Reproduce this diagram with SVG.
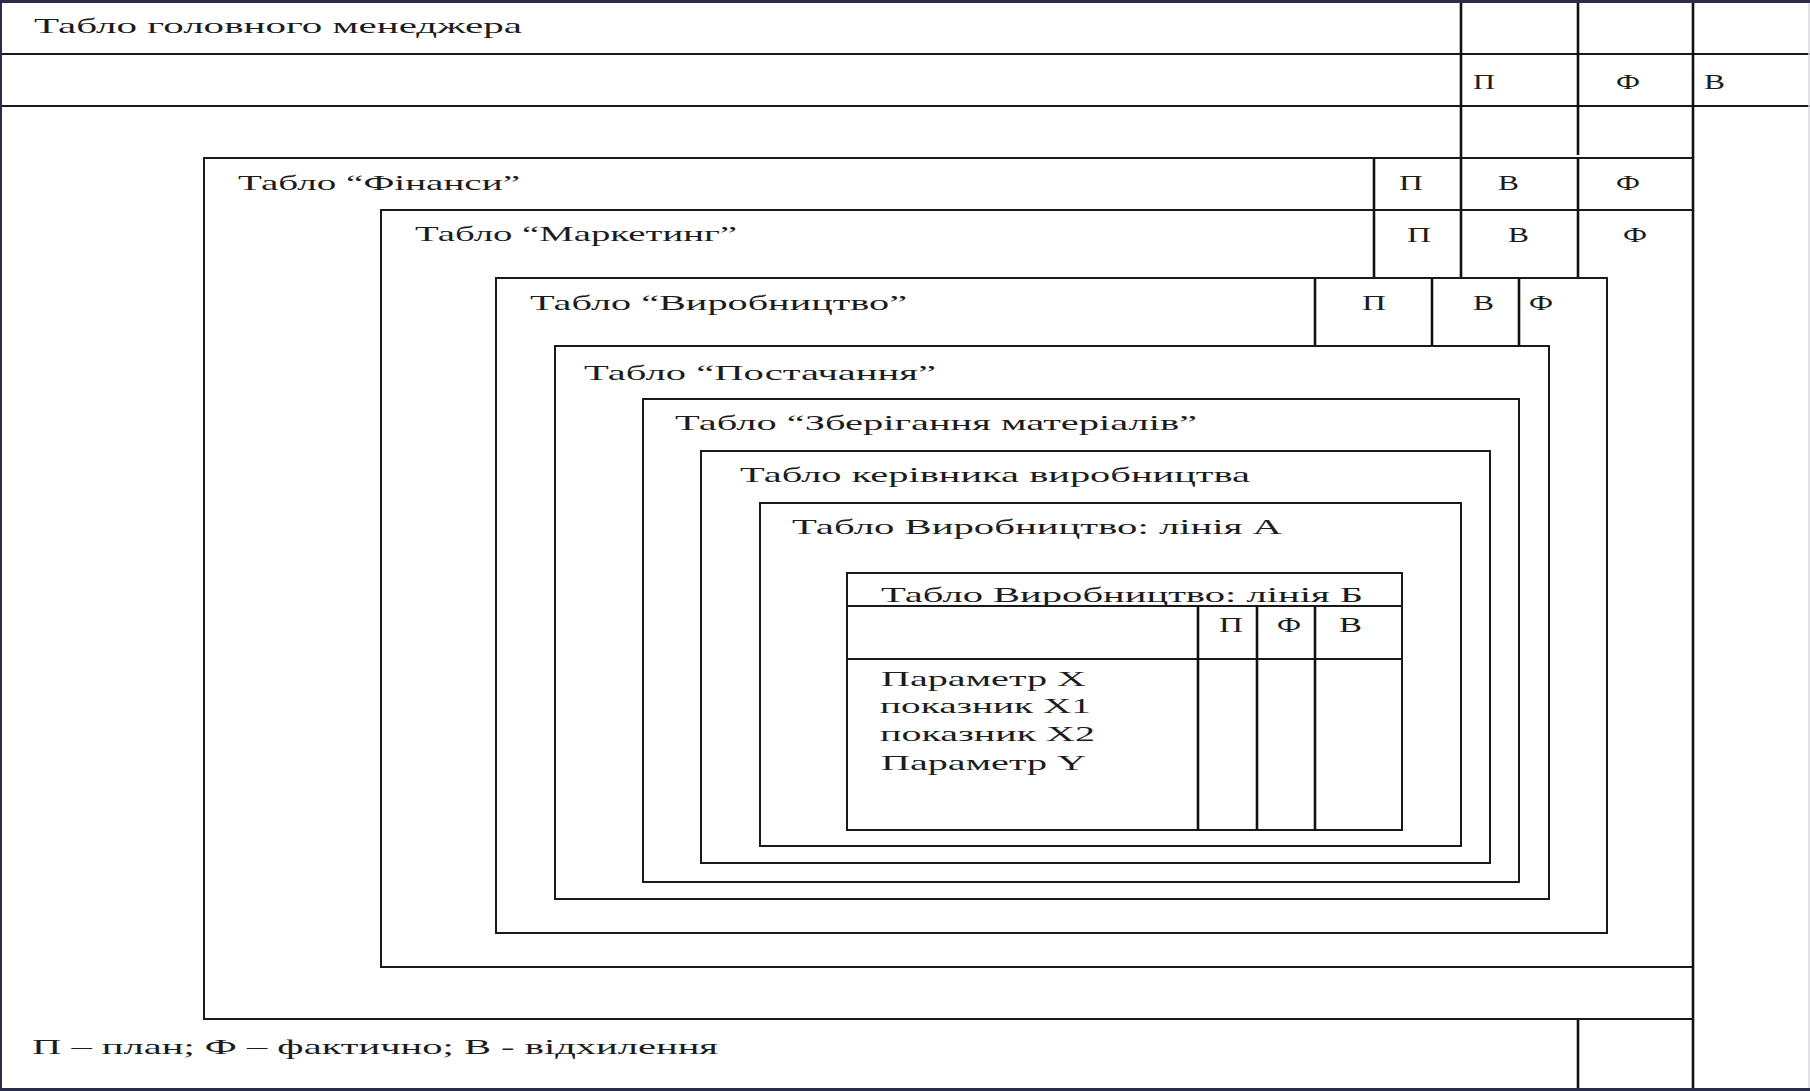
<svg xmlns="http://www.w3.org/2000/svg" width="1810" height="1091" viewBox="0 0 1810 1091">
<style>
.ln{stroke:#1a1a1a;stroke-width:2;fill:none}
.vk{stroke:#111;stroke-width:2.6;fill:none}
.t{font-family:"Liberation Serif","DejaVu Serif",serif;font-size:22px;fill:#1c1c1c}
.m{font-family:"Liberation Serif","DejaVu Serif",serif;font-size:22px;fill:#1c1c1c}
</style>
<rect x="0" y="0" width="1810" height="1091" fill="#ffffff"/>
<g id="frame">
<line class="ln" x1="0" y1="54" x2="1810" y2="54"/>
<line class="ln" x1="0" y1="106" x2="1810" y2="106"/>
<line class="vk" x1="1461" y1="0" x2="1461" y2="278"/>
<line class="vk" x1="1578" y1="0" x2="1578" y2="155"/>
<line class="vk" x1="1693" y1="0" x2="1693" y2="1091"/>
<line class="vk" x1="1578" y1="1019" x2="1578" y2="1091"/>
<line x1="1809" y1="0" x2="1809" y2="1091" stroke="#d8d8de" stroke-width="1.5"/>
<line x1="0" y1="1.5" x2="1810" y2="1.5" stroke="#2c2c4c" stroke-width="3"/>
<line x1="1" y1="0" x2="1" y2="1091" stroke="#2c2c4c" stroke-width="2"/>
<line x1="0" y1="1089.5" x2="1810" y2="1089.5" stroke="#2c2c4c" stroke-width="3"/>
</g>
<g id="head-manager">
<text class="m" x="34" y="33" textLength="488" lengthAdjust="spacingAndGlyphs">Табло головного менеджера</text>
<text class="t" x="1473" y="89" textLength="22" lengthAdjust="spacingAndGlyphs">П</text>
<text class="t" x="1616" y="89" textLength="24" lengthAdjust="spacingAndGlyphs">Ф</text>
<text class="t" x="1704" y="89" textLength="21" lengthAdjust="spacingAndGlyphs">В</text>
</g>
<g id="finance">
<polyline class="ln" points="1693,158 204,158 204,1019 1693,1019"/>
<line class="vk" x1="1374" y1="158" x2="1374" y2="278"/>
<line class="vk" x1="1578" y1="158" x2="1578" y2="278"/>
<text class="t" x="238" y="190" textLength="282" lengthAdjust="spacingAndGlyphs">Табло “Фінанси”</text>
<text class="t" x="1399" y="190" textLength="24" lengthAdjust="spacingAndGlyphs">П</text>
<text class="t" x="1498" y="190" textLength="21" lengthAdjust="spacingAndGlyphs">В</text>
<text class="t" x="1616" y="190" textLength="24" lengthAdjust="spacingAndGlyphs">Ф</text>
</g>
<g id="marketing">
<polyline class="ln" points="1693,210 381,210 381,967 1693,967"/>
<text class="t" x="415" y="241" textLength="322" lengthAdjust="spacingAndGlyphs">Табло “Маркетинг”</text>
<text class="t" x="1407" y="242" textLength="24" lengthAdjust="spacingAndGlyphs">П</text>
<text class="t" x="1508" y="242" textLength="21" lengthAdjust="spacingAndGlyphs">В</text>
<text class="t" x="1623" y="242" textLength="24" lengthAdjust="spacingAndGlyphs">Ф</text>
</g>
<g id="production">
<rect class="ln" x="496" y="278" width="1111" height="655"/>
<line class="vk" x1="1315" y1="278" x2="1315" y2="346"/>
<line class="vk" x1="1432" y1="278" x2="1432" y2="346"/>
<line class="vk" x1="1519" y1="278" x2="1519" y2="346"/>
<text class="t" x="530" y="310" textLength="377" lengthAdjust="spacingAndGlyphs">Табло “Виробництво”</text>
<text class="t" x="1362" y="310" textLength="24" lengthAdjust="spacingAndGlyphs">П</text>
<text class="t" x="1473" y="310" textLength="21" lengthAdjust="spacingAndGlyphs">В</text>
<text class="t" x="1529" y="310" textLength="24" lengthAdjust="spacingAndGlyphs">Ф</text>
</g>
<g id="supply">
<rect class="ln" x="555" y="346" width="994" height="553"/>
<text class="t" x="584" y="380" textLength="352" lengthAdjust="spacingAndGlyphs">Табло “Постачання”</text>
</g>
<g id="storage">
<rect class="ln" x="643" y="399" width="876" height="483"/>
<text class="t" x="675" y="430" textLength="522" lengthAdjust="spacingAndGlyphs">Табло “Зберігання матеріалів”</text>
</g>
<g id="production-head">
<rect class="ln" x="701" y="451" width="789" height="412"/>
<text class="t" x="740" y="482" textLength="510" lengthAdjust="spacingAndGlyphs">Табло керівника виробництва</text>
</g>
<g id="line-a">
<rect class="ln" x="760" y="503" width="701" height="343"/>
<text class="t" x="792" y="534" textLength="490" lengthAdjust="spacingAndGlyphs">Табло Виробництво: лінія А</text>
</g>
<g id="line-b">
<rect class="ln" x="847" y="573" width="555" height="257"/>
<line class="ln" x1="847" y1="606" x2="1402" y2="606"/>
<line class="ln" x1="847" y1="659" x2="1402" y2="659"/>
<line class="vk" x1="1198" y1="606" x2="1198" y2="830"/>
<line class="vk" x1="1257" y1="606" x2="1257" y2="830"/>
<line class="vk" x1="1315" y1="606" x2="1315" y2="830"/>
<text class="m" x="881" y="602" textLength="482" lengthAdjust="spacingAndGlyphs">Табло Виробництво: лінія Б</text>
<text class="m" x="1219" y="632" textLength="24" lengthAdjust="spacingAndGlyphs">П</text>
<text class="m" x="1277" y="632" textLength="24" lengthAdjust="spacingAndGlyphs">Ф</text>
<text class="m" x="1339" y="632" textLength="23" lengthAdjust="spacingAndGlyphs">В</text>
<text class="m" x="881" y="686" textLength="205" lengthAdjust="spacingAndGlyphs">Параметр X</text>
<text class="m" x="880" y="713" textLength="211" lengthAdjust="spacingAndGlyphs">показник X1</text>
<text class="m" x="880" y="741" textLength="215" lengthAdjust="spacingAndGlyphs">показник X2</text>
<text class="m" x="881" y="770" textLength="205" lengthAdjust="spacingAndGlyphs">Параметр Y</text>
</g>
<g id="legend">
<text class="t" x="32" y="1054" textLength="686" lengthAdjust="spacingAndGlyphs">П – план; Ф – фактично; В - відхилення</text>
</g>
</svg>
